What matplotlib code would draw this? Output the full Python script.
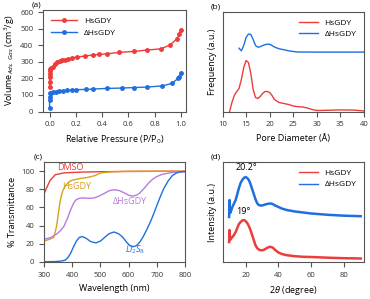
import matplotlib
matplotlib.use('Agg')
import matplotlib.pyplot as plt
import numpy as np

plt.rcParams['font.family'] = ['Open Sans', 'DejaVu Sans']
plt.rcParams['mathtext.fontset'] = 'custom'
plt.rcParams['mathtext.rm'] = 'Open Sans'
plt.rcParams['mathtext.it'] = 'Open Sans:italic'

RED = '#ee3b3b'
BLUE = '#1f6fe0'
GOLD = '#d9a01a'
PURPLE = '#b97ae0'
GREY = '#555555'

# (a) N2 isotherm
iso_hs_x = [0.0, 0.0, 0.0, 0.0, 0.002, 0.005, 0.012, 0.026, 0.038, 0.056, 0.077, 0.097, 0.118,
            0.14, 0.17, 0.21, 0.27, 0.33, 0.38, 0.44, 0.53, 0.64, 0.74, 0.85, 0.92, 0.97, 0.99, 1.0]
iso_hs_y = [150, 180, 210, 230, 245, 255, 262, 270, 290, 300, 306, 310, 314,
            318, 324, 330, 336, 342, 346, 350, 358, 364, 372, 380, 404, 440, 470, 496]
iso_d_x = [0.0, 0.0, 0.002, 0.005, 0.012, 0.026, 0.046, 0.072, 0.1, 0.13, 0.17, 0.205,
           0.28, 0.33, 0.44, 0.55, 0.64, 0.74, 0.86, 0.93, 0.98, 0.99, 1.0]
iso_d_y = [20, 70, 90, 110, 115, 118, 120, 124, 126, 128, 130, 132,
           134, 136, 140, 142, 145, 148, 155, 170, 200, 210, 234]

# (b) pore size distribution (a.u.)
pore_hs_x = [11.5, 12.0, 12.5, 13.0, 13.5, 14.0, 14.5, 15.0, 15.5, 16.0, 16.5, 17.0, 17.5,
             18.0, 18.5, 19.0, 19.5, 20.0, 20.5, 21.0, 22.0, 23.0, 24.0, 25.0, 26.0, 27.0,
             28.0, 29.0, 30.0, 32.0, 35.0, 38.0, 40.0]
pore_hs_y = [0.0, 0.09, 0.16, 0.20, 0.23, 0.32, 0.44, 0.51, 0.49, 0.38, 0.22, 0.14, 0.13,
             0.15, 0.18, 0.20, 0.20, 0.19, 0.16, 0.12, 0.09, 0.08, 0.07, 0.055, 0.048, 0.045,
             0.035, 0.02, 0.01, 0.012, 0.016, 0.014, 0.005]
pore_d_x = [13.5, 14.0, 14.5, 15.0, 15.5, 16.0, 16.5, 17.0, 17.5, 18.0, 18.5, 19.0, 19.5,
            20.0, 20.5, 21.0, 22.0, 23.0, 24.0, 25.0, 26.0, 30.0, 35.0, 40.0]
pore_d_y = [0.633, 0.607, 0.66, 0.74, 0.775, 0.77, 0.72, 0.66, 0.643, 0.648, 0.66, 0.668, 0.673,
            0.672, 0.66, 0.645, 0.627, 0.618, 0.607, 0.600, 0.595, 0.594, 0.594, 0.594]

# (c) UV-vis transmittance
wl_dmso = [300, 310, 322, 340, 370, 400, 450, 500, 600, 700, 800]
tr_dmso = [75, 82, 90, 96, 98, 98.5, 99, 99.3, 99.6, 99.8, 99.8]
wl_hs = [300, 320, 334, 340, 346, 352, 358, 366, 376, 388, 400, 430, 454, 480, 502, 530, 562, 600, 700, 800]
tr_hs = [23, 25, 27, 33, 42, 56, 68, 78, 84, 88, 90, 92, 93, 95, 98, 99, 99.5, 99.8, 99.8, 99.8]
wl_dhs = [300, 325, 346, 360, 370, 382, 394, 404, 412, 424, 436, 460, 478, 495, 514, 532, 550, 568,
          585, 600, 615, 628, 640, 655, 670, 685, 700, 720, 750, 780, 800]
tr_dhs = [25, 27, 31, 35, 39, 47, 57, 64, 68, 70, 70.5, 70, 70.5, 72.5, 75.5, 78.5, 79.5, 78.5,
          76, 73.5, 72.5, 73.5, 76, 81, 86.5, 91, 94, 96.5, 98.3, 99, 99.2]
wl_li = [300, 340, 360, 375, 385, 395, 405, 415, 425, 436, 450, 465, 484, 500, 515, 530, 548,
         565, 580, 595, 605, 615, 628, 640, 652, 665, 680, 695, 710, 725, 740, 755, 770, 785, 800]
tr_li = [0.3, 0.5, 1, 2, 5, 10, 17, 23, 27, 28, 26, 22.5, 21, 23, 27, 31, 33, 31, 27, 21, 18, 16.8,
         18, 22, 28, 36, 46, 58, 70, 81, 89, 95, 98, 99.3, 99.5]

# (d) XRD (a.u.)
xrd_x = [10, 10.3, 10.6, 11, 12, 13, 14, 15, 16, 17, 18, 19, 20, 21, 22, 23, 24, 25, 26, 27,
         28, 29, 30, 31, 32, 33, 34, 35, 36, 37, 38, 40, 42, 45, 50, 55, 60, 70, 80, 90]
xrd_hs = [0.20, 0.32, 0.22, 0.23, 0.25, 0.27, 0.30, 0.34, 0.38, 0.40, 0.415, 0.42, 0.41, 0.39,
          0.36, 0.32, 0.27, 0.22, 0.17, 0.14, 0.125, 0.118, 0.118, 0.12, 0.13, 0.14, 0.148, 0.152,
          0.148, 0.138, 0.12, 0.095, 0.08, 0.068, 0.058, 0.052, 0.05, 0.043, 0.038, 0.035]
xrd_d = [0.45, 0.62, 0.49, 0.50, 0.55, 0.585, 0.62, 0.68, 0.74, 0.79, 0.82, 0.84, 0.85, 0.84,
         0.82, 0.78, 0.73, 0.68, 0.63, 0.59, 0.57, 0.565, 0.565, 0.57, 0.575, 0.58, 0.583, 0.585,
         0.583, 0.575, 0.565, 0.55, 0.535, 0.52, 0.505, 0.495, 0.485, 0.472, 0.463, 0.458]

W, H = 370, 299


def add_ax(fig, left, top, right, bottom):
    return fig.add_axes([left / W, 1 - bottom / H, (right - left) / W, (bottom - top) / H])


def style(ax):
    for s in ax.spines.values():
        s.set_color(GREY)
        s.set_linewidth(0.8)
    ax.tick_params(direction='out', length=3.5, width=0.8, color=GREY, labelsize=5.5,
                   labelcolor='#333333', pad=3.5)


def small_legend(ax, loc, hl):
    leg = ax.legend(loc=loc, fontsize=6, frameon=False, handlelength=hl, labelspacing=0.4)
    for line in leg.get_lines():
        line.set_linewidth(1.0)


fig = plt.figure(figsize=(W / 100, H / 100), dpi=100)

# (a)
ax = add_ax(fig, 43, 10, 186, 111.5)
style(ax)
ax.plot(iso_hs_x, iso_hs_y, '-o', color=RED, ms=2.5, lw=1.0, label='HsGDY')
ax.plot(iso_d_x, iso_d_y, '-o', color=BLUE, ms=2.5, lw=1.0, label='\u0394HsGDY')
ax.set_xlim(-0.05, 1.04)
ax.set_ylim(0, 615)
ax.set_xticks(np.arange(0, 1.01, 0.2))
ax.set_yticks(np.arange(0, 601, 100))
ax.set_xlabel('Relative Pressure (P/P$_0$)', fontsize=6.5, labelpad=4)
ax.set_ylabel('Volume$_{Ads.\\ Gas}$ (cm$^3$/g)', fontsize=6.5, labelpad=2)
small_legend(ax, 'upper left', 3.2)
ax.text(-0.01, 1.01, '(a)', transform=ax.transAxes, fontsize=6, ha='right', va='bottom')

# (b)
ax = add_ax(fig, 222.5, 11.5, 364, 111.5)
style(ax)
ax.plot(pore_hs_x, pore_hs_y, color=RED, lw=1.0, label='HsGDY')
ax.plot(pore_d_x, pore_d_y, color=BLUE, lw=1.0, label='\u0394HsGDY')
ax.set_xlim(10, 40)
ax.set_ylim(0, 1)
ax.set_xticks(np.arange(10, 41, 5))
ax.set_yticks([])
ax.set_xlabel('Pore Diameter (\u00c5)', fontsize=6.5, labelpad=4)
ax.set_ylabel('Frequency (a.u.)', fontsize=6.5, labelpad=4)
small_legend(ax, 'upper right', 2.2)
ax.text(-0.01, 1.01, '(b)', transform=ax.transAxes, fontsize=6, ha='right', va='bottom')

# (c)
ax = add_ax(fig, 44, 162, 185, 262)
style(ax)
ax.plot(wl_dmso, tr_dmso, color=RED, lw=1.0)
ax.plot(wl_hs, tr_hs, color=GOLD, lw=1.0)
ax.plot(wl_dhs, tr_dhs, color=PURPLE, lw=1.0)
ax.plot(wl_li, tr_li, color=BLUE, lw=1.0)
ax.set_xlim(300, 800)
ax.set_ylim(0, 110)
ax.set_xticks(np.arange(300, 801, 100))
ax.set_yticks(np.arange(0, 101, 20))
ax.set_xlabel('Wavelength (nm)', fontsize=6.5, labelpad=4)
ax.set_ylabel('% Transmittance', fontsize=6.5, labelpad=3)
ax.text(392, 104, 'DMSO', color=RED, fontsize=6.5, ha='center', va='center')
ax.text(416, 83, 'HsGDY', color=GOLD, fontsize=6.5, ha='center', va='center')
ax.text(605, 66, '\u0394HsGDY', color=PURPLE, fontsize=6.5, ha='center', va='center')
ax.text(622, 13, '$Li_2S_8$', color=BLUE, fontsize=6.5, ha='center', va='center')
ax.text(-0.01, 1.01, '(c)', transform=ax.transAxes, fontsize=6, ha='right', va='bottom')

# (d)
ax = add_ax(fig, 222.5, 162, 364, 262)
style(ax)
ax.plot(xrd_x, xrd_hs, color=RED, lw=1.8, label='HsGDY')
ax.plot(xrd_x, xrd_d, color=BLUE, lw=1.8, label='\u0394HsGDY')
ax.set_xlim(6, 92)
ax.set_ylim(0, 1)
ax.set_xticks(np.arange(20, 81, 20))
ax.set_yticks([])
ax.set_xlabel('2$\\theta$ (degree)', fontsize=6.5, labelpad=4)
ax.set_ylabel('Intensity (a.u.)', fontsize=6.5, labelpad=4)
small_legend(ax, 'upper right', 2.2)
ax.text(20.4, 0.947, '20.2\u00b0', fontsize=6.5, ha='center', va='center')
ax.text(18.8, 0.503, '19\u00b0', fontsize=6.5, ha='center', va='center')
ax.text(-0.01, 1.01, '(d)', transform=ax.transAxes, fontsize=6, ha='right', va='bottom')

fig.savefig('out.png', dpi=100)
